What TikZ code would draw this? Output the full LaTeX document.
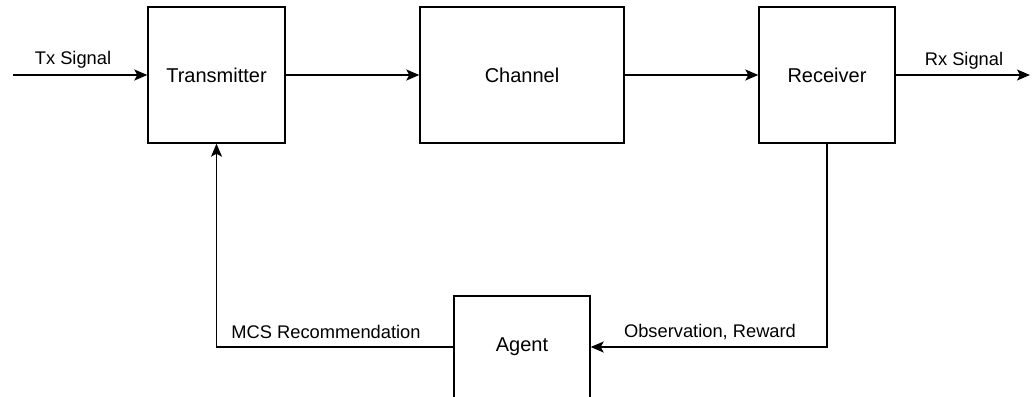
\documentclass[tikz,border=0pt]{standalone}
\usepackage{fontspec}
\setmainfont{Liberation Sans}
\usetikzlibrary{arrows.meta}
\begin{document}
\begin{tikzpicture}[x=1pt,y=-1pt,
  blockbox/.style={draw,line width=1.4pt,minimum width=#1,inner sep=0pt,font=\fontsize{20}{24}\selectfont},
  conn/.style={line width=1.4pt,-{Stealth[length=13pt,width=11pt,inset=3pt]}},
  plain/.style={line width=1.4pt},
  lab/.style={font=\fontsize{18.3}{22}\selectfont,inner sep=0pt}]
\useasboundingbox (0,0) rectangle (1035,396);
\node[blockbox=137pt,minimum height=136pt] (tx) at (216.5,75) {Transmitter};
\node[blockbox=204pt,minimum height=136pt] (ch) at (522,75) {Channel};
\node[blockbox=136pt,minimum height=136pt] (rx) at (827,75) {Receiver};
\node[blockbox=136pt,minimum height=102pt] (ag) at (522,347) {Agent};
\coordinate (in) at (13,75);
\coordinate (out) at (1030,75);
\draw[conn] (in) -- (tx);
\draw[conn] (tx) -- (ch);
\draw[conn] (ch) -- (rx);
\draw[conn] (rx) -- (out);
\draw[conn] (rx.south) |- (ag.east);
\draw[conn] (ag.west) -| (tx.south);
\node[lab] (l1) at (73,60) {Tx Signal};
\node[lab] (l2) at (964,61) {Rx Signal};
\node[lab] (l3) at (326,332) {MCS Recommendation};
\node[lab] (l4) at (710,332) {Observation, Reward};
\end{tikzpicture}
\end{document}
